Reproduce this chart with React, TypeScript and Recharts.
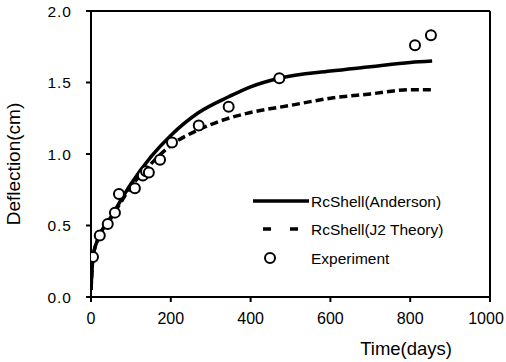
import {
  ComposedChart,
  Line,
  Scatter,
  XAxis,
  YAxis,
  ReferenceLine,
} from 'recharts';

const andersonDays = [0, 5, 20, 50, 100, 150, 200, 270, 345, 400, 472, 600, 700, 800, 855];
const andersonDefl = [0.05, 0.28, 0.42, 0.56, 0.79, 0.98, 1.13, 1.29, 1.4, 1.47, 1.53, 1.58, 1.61, 1.64, 1.65];

const j2Days = [0, 5, 20, 50, 100, 150, 200, 270, 345, 400, 500, 600, 700, 800, 855];
const j2Defl = [0.05, 0.28, 0.42, 0.55, 0.77, 0.93, 1.06, 1.17, 1.25, 1.29, 1.34, 1.39, 1.42, 1.45, 1.45];

const expDays = [5, 22, 42, 60, 70, 110, 130, 138, 145, 173, 203, 270, 345, 472, 812, 852];
const expDefl = [0.28, 0.43, 0.51, 0.59, 0.72, 0.76, 0.85, 0.88, 0.87, 0.96, 1.08, 1.2, 1.33, 1.53, 1.76, 1.83];

const xTicks = [0, 200, 400, 600, 800, 1000];
const yTicks = [0, 0.5, 1.0, 1.5, 2.0];

const seriesNames = ['RcShell(Anderson)', 'RcShell(J2 Theory)', 'Experiment'];

const anderson = andersonDays.map((d, i) => ({ x: d, y: andersonDefl[i] }));
const j2 = j2Days.map((d, i) => ({ x: d, y: j2Defl[i] }));
const experiment = expDays.map((d, i) => ({ x: d, y: expDefl[i] }));

const FONT = 'Arial, "Liberation Sans", sans-serif';

const OpenCircle = (props: any) => {
  const { cx, cy } = props;
  return <circle cx={cx} cy={cy} r={5} fill="#fff" stroke="#000" strokeWidth={2} />;
};

// x tick: keep "1000" inside the picture
const XTick = (props: any) => {
  const { x, y, payload } = props;
  const shift = payload.value === 1000 ? -4 : 0;
  return (
    <text x={x + shift} y={y + 14} textAnchor="middle" fontSize={16} fill="#000">
      {payload.value}
    </text>
  );
};

const LegendBox = () => (
  <svg width={200} height={80} style={{ fontFamily: FONT, display: 'block' }}>
    <line x1={0} y1={10} x2={56} y2={10} stroke="#000" strokeWidth={3.5} />
    <text x={58} y={15.5} fontSize={15.5} fill="#000">{seriesNames[0]}</text>
    <line x1={10} y1={38} x2={46} y2={38} stroke="#000" strokeWidth={3.5} strokeDasharray="8 19" />
    <text x={58} y={43.5} fontSize={15.5} fill="#000">{seriesNames[1]}</text>
    <circle cx={17} cy={67} r={5} fill="#fff" stroke="#000" strokeWidth={2} />
    <text x={58} y={72.5} fontSize={15.5} fill="#000">{seriesNames[2]}</text>
  </svg>
);

export default function App() {
  return (
    <div style={{ position: 'fixed', left: 0, top: 0, width: 506, height: 362, background: '#fff' }}>
      <ComposedChart
        width={506}
        height={362}
        margin={{ top: 11, right: 16, left: 0, bottom: 0 }}
        style={{ fontFamily: FONT }}
      >
        <XAxis
          type="number"
          dataKey="x"
          domain={[0, 1000]}
          ticks={xTicks}
          allowDataOverflow
          height={65}
          stroke="#000"
          strokeWidth={2}
          tickSize={5}
          tick={<XTick />}
          tickMargin={8}
          label={{ value: 'Time(days)', position: 'insideBottomRight', offset: 0, dx: -38, dy: -7, fill: '#000', fontSize: 18.5 }}
        />
        <YAxis
          type="number"
          dataKey="y"
          domain={[0, 2]}
          ticks={yTicks}
          width={91}
          stroke="#000"
          strokeWidth={2}
          tickSize={5}
          tickMargin={14}
          tick={{ fill: '#000', fontSize: 15.5, letterSpacing: 1 }}
          tickFormatter={(v: number) => v.toFixed(1)}
          label={{ value: 'Deflection(cm)', angle: -90, position: 'insideLeft', dx: 8, dy: 10, fill: '#000', fontSize: 19, style: { textAnchor: 'middle' } }}
        />
        <ReferenceLine y={2} stroke="#000" strokeWidth={2} />
        <ReferenceLine x={1000} stroke="#000" strokeWidth={2} />
        <Line
          data={anderson}
          dataKey="y"
          type="monotone"
          stroke="#000"
          strokeWidth={3.5}
          dot={false}
          isAnimationActive={false}
        />
        <Line
          data={j2}
          dataKey="y"
          type="monotone"
          stroke="#000"
          strokeWidth={3.5}
          strokeDasharray="8 4"
          dot={false}
          isAnimationActive={false}
        />
        <Scatter
          data={experiment}
          dataKey="y"
          shape={<OpenCircle />}
          isAnimationActive={false}
        />
      </ComposedChart>
      <div style={{ position: 'absolute', left: 253, top: 191 }}>
        <LegendBox />
      </div>
    </div>
  );
}
